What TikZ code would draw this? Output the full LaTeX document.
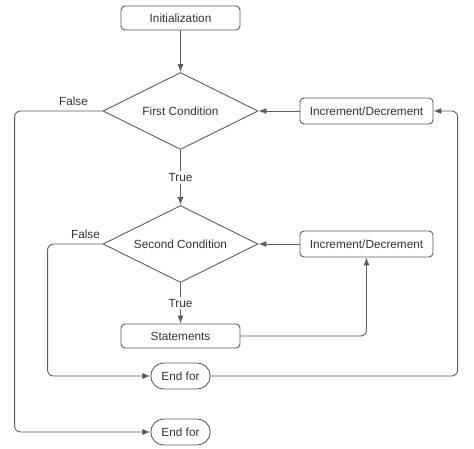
\documentclass[tikz,border=0pt]{standalone}
\usepackage{fontspec}
\setmainfont{Liberation Sans}
\usepackage{xcolor}
\usepackage{tikz}
\usetikzlibrary{shapes,arrows.meta,positioning}
\definecolor{linegray}{HTML}{5C5C5C}
\definecolor{textgray}{HTML}{333333}
\tikzstyle{block} = [rectangle, draw=linegray, line width=0.9pt, rounded corners=4pt, minimum width=119pt, minimum height=24pt, text centered]
\tikzstyle{stepbox} = [block, minimum width=133pt, minimum height=26pt]
\tikzstyle{decision} = [diamond, draw=linegray, line width=0.9pt, aspect=2, minimum width=155pt, minimum height=77pt, inner sep=0pt]
\tikzstyle{terminal} = [rounded rectangle, draw=linegray, line width=0.9pt, minimum width=66pt, minimum height=26pt]
\tikzstyle{arrow} = [line width=0.9pt, draw=linegray, rounded corners=6pt, -{Latex[length=8pt,width=6pt]}]
\tikzstyle{lbl} = [fill=white, inner sep=2pt, text=textgray]

\begin{document}
\begin{tikzpicture}[font=\fontsize{11.8}{14}\selectfont, text=textgray]
    \useasboundingbox (0,0) rectangle (474pt,-449pt);
    % Start
    \node [block] (init) at (180.5pt,-18pt) {Initialization};

    % Outer loop
    \node [decision, below of=init, node distance=93pt] (cond1) {First Condition};
    \node [stepbox, right of=cond1, node distance=186pt] (inc1) {Increment/Decrement};

    % Inner loop
    \node [decision, below of=cond1, node distance=133pt] (cond2) {Second Condition};
    \node [stepbox, right of=cond2, node distance=186pt] (inc2) {Increment/Decrement};
    \node [block, below of=cond2, node distance=92pt] (stmt) {Statements};

    % Ends
    \node [terminal, below of=stmt, node distance=40pt] (end1) {End for};
    \node [terminal, below of=end1, node distance=56pt] (end2) {End for};

    % Connections
    \draw [arrow] (init) -- (cond1);
    \draw [arrow] (cond1) -- node [lbl] {True} (cond2);
    \draw [arrow] (cond2) -- node [lbl] {True} (stmt);
    \draw [arrow] (inc1) -- (cond1);
    \draw [arrow] (inc2) -- (cond2);
    \draw [arrow] (stmt.east) -| (inc2.south);
    \draw [arrow] (cond1.west) -- ++(-88pt,0) node [pos=0.33, above=2pt] {False} |- (end2.west);
    \draw [arrow] (cond2.west) -- ++(-55pt,0) node [pos=0.31, above=2pt] {False} |- (end1.west);
    \draw [arrow] (end1.east) -- ++(247pt,0) |- (inc1.east);
\end{tikzpicture}
\end{document}
